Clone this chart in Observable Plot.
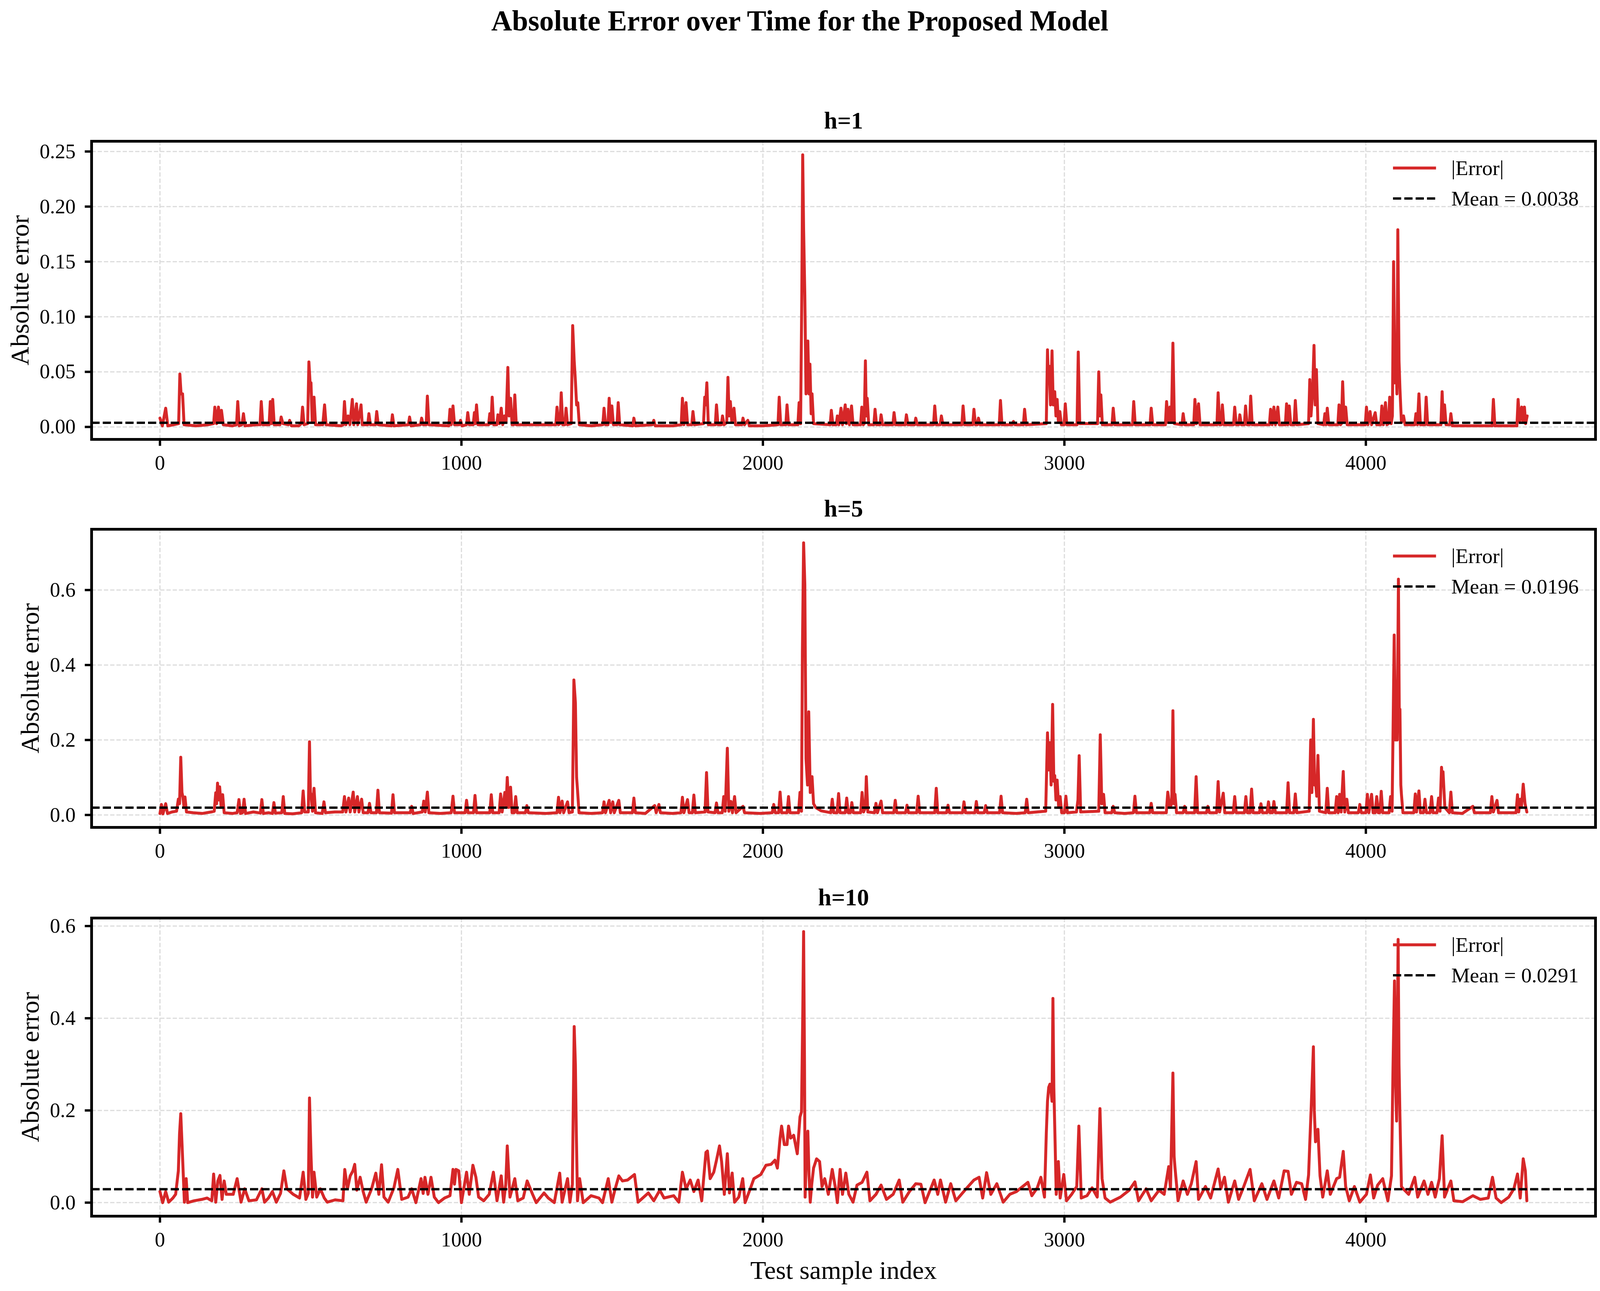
<!DOCTYPE html>
<html><head><meta charset="utf-8">
<script src="https://cdn.jsdelivr.net/npm/d3@7"></script>
<script src="https://cdn.jsdelivr.net/npm/@observablehq/plot@0.6"></script>
<style>
html,body{margin:0;padding:0;background:#fff;overflow:hidden;}
#page{position:relative;height:3304px;background:#fff;overflow:hidden;}
.panel{position:absolute;left:0;}
.panel svg{display:block;max-width:none;}
</style></head><body><div id="page"></div>
<script>
// ---------------- data ----------------
const chartTitle = "Absolute Error over Time for the Proposed Model";
const panelTitles = ["h=1", "h=5", "h=10"];
const meanValues = [0.0038, 0.0196, 0.0291];
const sampleIndexRange = [0, 4535];
const xTicks = [0, 1000, 2000, 3000, 4000];
const yTicksH1 = [0, 0.05, 0.10, 0.15, 0.20, 0.25];
const yTicksH5 = [0, 0.2, 0.4, 0.6];
const yTicksH10 = [0, 0.2, 0.4, 0.6];
const seriesLabel = "|Error|";
const yLabel = "Absolute error";
const xLabel = "Test sample index";

// [test sample index, absolute error]
const errorH1 = [[0,0.008],[8,0.001],[19,0.017],[26,0.001],[45,0.002],[62,0.003],[66,0.048],[70,0.030],[75,0.030],[80,0.002],[120,0.001],[160,0.002],[178,0.003],[182,0.018],[188,0.003],[194,0.018],[199,0.004],[204,0.015],[210,0.002],[240,0.001],[254,0.002],[258,0.023],[263,0.001],[272,0.002],[277,0.012],[282,0.001],[320,0.002],[332,0.002],[336,0.023],[341,0.002],[362,0.002],[366,0.023],[370,0.003],[374,0.025],[379,0.002],[398,0.002],[402,0.009],[408,0.003],[426,0.002],[430,0.006],[436,0.001],[460,0.001],[469,0.003],[473,0.018],[478,0.002],[490,0.003],[494,0.059],[498,0.040],[501,0.040],[505,0.004],[511,0.027],[516,0.002],[540,0.002],[546,0.020],[551,0.002],[600,0.001],[608,0.002],[612,0.023],[617,0.002],[624,0.010],[630,0.002],[638,0.025],[643,0.002],[652,0.021],[656,0.002],[667,0.020],[671,0.002],[689,0.002],[693,0.012],[698,0.002],[715,0.002],[719,0.014],[724,0.002],[767,0.001],[771,0.011],[776,0.001],[824,0.002],[828,0.009],[833,0.001],[864,0.002],[868,0.008],[873,0.002],[883,0.002],[887,0.028],[892,0.002],[958,0.001],[962,0.016],[966,0.002],[972,0.019],[977,0.002],[993,0.002],[997,0.006],[1002,0.001],[1017,0.002],[1021,0.013],[1026,0.002],[1039,0.002],[1043,0.013],[1046,0.003],[1050,0.020],[1055,0.002],[1090,0.002],[1094,0.012],[1098,0.003],[1102,0.027],[1107,0.002],[1117,0.002],[1121,0.011],[1126,0.003],[1132,0.017],[1137,0.002],[1143,0.010],[1148,0.004],[1154,0.054],[1158,0.010],[1163,0.026],[1168,0.002],[1173,0.002],[1177,0.029],[1182,0.002],[1250,0.002],[1313,0.002],[1317,0.018],[1322,0.002],[1327,0.003],[1331,0.031],[1336,0.002],[1343,0.002],[1347,0.017],[1352,0.002],[1364,0.003],[1369,0.092],[1374,0.060],[1378,0.042],[1382,0.020],[1386,0.022],[1391,0.002],[1430,0.001],[1469,0.002],[1473,0.017],[1478,0.002],[1486,0.002],[1490,0.026],[1495,0.004],[1499,0.019],[1504,0.002],[1516,0.002],[1520,0.022],[1525,0.002],[1568,0.001],[1572,0.008],[1577,0.001],[1634,0.002],[1638,0.006],[1643,0.001],[1700,0.001],[1729,0.002],[1733,0.026],[1738,0.002],[1745,0.022],[1750,0.002],[1764,0.002],[1768,0.014],[1773,0.002],[1803,0.003],[1807,0.027],[1810,0.020],[1814,0.040],[1819,0.002],[1842,0.002],[1846,0.020],[1851,0.002],[1862,0.002],[1866,0.010],[1871,0.002],[1880,0.004],[1884,0.045],[1888,0.010],[1892,0.023],[1897,0.004],[1904,0.017],[1909,0.002],[1930,0.002],[1934,0.008],[1939,0.002],[1950,0.006],[1955,0.001],[2000,0.001],[2050,0.002],[2054,0.027],[2059,0.002],[2076,0.002],[2080,0.020],[2085,0.002],[2116,0.002],[2120,0.022],[2125,0.003],[2129,0.120],[2132,0.247],[2135,0.180],[2139,0.120],[2143,0.030],[2146,0.040],[2149,0.078],[2153,0.030],[2156,0.057],[2160,0.012],[2163,0.030],[2168,0.003],[2223,0.002],[2227,0.015],[2232,0.002],[2243,0.002],[2247,0.010],[2252,0.002],[2259,0.017],[2264,0.002],[2273,0.020],[2277,0.003],[2282,0.016],[2287,0.002],[2294,0.019],[2299,0.002],[2324,0.002],[2328,0.018],[2333,0.002],[2336,0.003],[2340,0.060],[2343,0.010],[2346,0.026],[2351,0.002],[2368,0.002],[2372,0.016],[2377,0.002],[2388,0.002],[2392,0.011],[2397,0.002],[2431,0.002],[2435,0.013],[2440,0.002],[2472,0.002],[2476,0.011],[2481,0.002],[2503,0.002],[2507,0.008],[2512,0.002],[2566,0.002],[2570,0.019],[2575,0.002],[2588,0.002],[2592,0.010],[2597,0.002],[2660,0.002],[2664,0.019],[2669,0.002],[2696,0.002],[2700,0.016],[2705,0.002],[2711,0.002],[2715,0.008],[2720,0.002],[2784,0.002],[2788,0.024],[2793,0.002],[2827,0.002],[2831,0.005],[2836,0.002],[2864,0.002],[2868,0.016],[2873,0.002],[2940,0.003],[2944,0.070],[2947,0.040],[2950,0.055],[2954,0.020],[2959,0.069],[2963,0.020],[2968,0.032],[2972,0.010],[2976,0.025],[2980,0.005],[2985,0.014],[2990,0.002],[2999,0.002],[3003,0.021],[3008,0.002],[3042,0.002],[3046,0.068],[3051,0.003],[3110,0.003],[3114,0.050],[3118,0.010],[3121,0.029],[3126,0.002],[3158,0.002],[3162,0.017],[3167,0.002],[3226,0.002],[3230,0.023],[3235,0.002],[3284,0.002],[3288,0.017],[3293,0.002],[3335,0.002],[3339,0.023],[3344,0.004],[3350,0.018],[3355,0.004],[3360,0.076],[3365,0.003],[3390,0.002],[3394,0.012],[3399,0.002],[3429,0.002],[3433,0.025],[3438,0.003],[3445,0.021],[3450,0.002],[3506,0.002],[3510,0.031],[3515,0.002],[3520,0.002],[3524,0.020],[3529,0.002],[3561,0.002],[3565,0.018],[3570,0.002],[3578,0.002],[3582,0.011],[3587,0.002],[3597,0.002],[3601,0.019],[3606,0.002],[3614,0.002],[3618,0.028],[3623,0.002],[3680,0.002],[3684,0.016],[3689,0.002],[3695,0.018],[3700,0.002],[3708,0.018],[3713,0.002],[3733,0.002],[3737,0.021],[3741,0.002],[3746,0.019],[3751,0.002],[3762,0.002],[3766,0.024],[3771,0.002],[3810,0.003],[3814,0.043],[3818,0.010],[3823,0.030],[3828,0.074],[3832,0.020],[3836,0.052],[3841,0.003],[3860,0.002],[3864,0.012],[3868,0.002],[3872,0.017],[3877,0.002],[3907,0.002],[3911,0.020],[3916,0.002],[3919,0.003],[3923,0.041],[3928,0.004],[3933,0.018],[3938,0.002],[3998,0.002],[4002,0.018],[4007,0.002],[4014,0.014],[4019,0.002],[4031,0.013],[4036,0.002],[4049,0.002],[4053,0.019],[4058,0.002],[4065,0.022],[4070,0.002],[4075,0.003],[4079,0.027],[4084,0.003],[4088,0.010],[4092,0.150],[4096,0.040],[4099,0.081],[4103,0.030],[4106,0.179],[4110,0.060],[4113,0.035],[4118,0.004],[4125,0.010],[4130,0.002],[4162,0.002],[4166,0.012],[4171,0.002],[4176,0.030],[4181,0.002],[4196,0.002],[4200,0.027],[4205,0.002],[4249,0.002],[4253,0.032],[4257,0.004],[4261,0.020],[4266,0.002],[4278,0.002],[4282,0.012],[4287,0.001],[4350,0.001],[4419,0.001],[4423,0.025],[4428,0.001],[4501,0.001],[4505,0.025],[4510,0.005],[4517,0.018],[4521,0.004],[4526,0.018],[4530,0.003],[4535,0.010]];

const errorH5 = [[0,0.004],[5,0.028],[10,0.003],[19,0.030],[25,0.004],[40,0.008],[55,0.010],[61,0.042],[65,0.030],[69,0.154],[73,0.060],[76,0.048],[80,0.020],[83,0.048],[88,0.008],[110,0.006],[140,0.004],[170,0.008],[180,0.010],[185,0.059],[188,0.030],[191,0.085],[195,0.040],[198,0.075],[203,0.020],[208,0.054],[213,0.006],[240,0.004],[256,0.006],[262,0.041],[267,0.004],[274,0.006],[279,0.042],[284,0.004],[310,0.008],[333,0.005],[338,0.041],[343,0.004],[360,0.006],[373,0.004],[378,0.033],[383,0.005],[404,0.006],[409,0.049],[414,0.004],[440,0.003],[470,0.006],[475,0.064],[480,0.008],[492,0.008],[496,0.195],[499,0.060],[501,0.055],[506,0.010],[511,0.071],[516,0.006],[538,0.004],[544,0.035],[549,0.006],[580,0.008],[606,0.008],[612,0.049],[617,0.008],[626,0.045],[631,0.008],[641,0.061],[646,0.008],[655,0.049],[660,0.008],[669,0.042],[674,0.006],[690,0.006],[695,0.031],[700,0.006],[718,0.006],[723,0.066],[728,0.006],[768,0.005],[773,0.054],[778,0.006],[805,0.006],[830,0.006],[835,0.023],[840,0.004],[870,0.008],[875,0.037],[880,0.008],[887,0.061],[892,0.006],[930,0.004],[966,0.006],[972,0.050],[977,0.006],[1012,0.006],[1017,0.039],[1022,0.006],[1040,0.006],[1045,0.052],[1050,0.006],[1094,0.006],[1099,0.054],[1104,0.006],[1125,0.006],[1130,0.056],[1135,0.008],[1144,0.060],[1148,0.020],[1152,0.100],[1157,0.020],[1163,0.074],[1168,0.006],[1175,0.006],[1180,0.049],[1185,0.006],[1212,0.006],[1217,0.025],[1222,0.006],[1280,0.004],[1317,0.006],[1322,0.047],[1327,0.006],[1334,0.037],[1339,0.006],[1352,0.035],[1357,0.006],[1368,0.008],[1373,0.360],[1378,0.300],[1382,0.100],[1385,0.067],[1390,0.006],[1430,0.004],[1468,0.006],[1473,0.035],[1478,0.006],[1490,0.039],[1495,0.006],[1502,0.035],[1507,0.006],[1522,0.039],[1527,0.006],[1567,0.006],[1572,0.045],[1577,0.006],[1610,0.004],[1641,0.025],[1646,0.006],[1655,0.028],[1660,0.006],[1700,0.004],[1728,0.006],[1733,0.047],[1738,0.006],[1750,0.041],[1755,0.006],[1766,0.006],[1771,0.053],[1776,0.006],[1808,0.008],[1813,0.113],[1818,0.008],[1841,0.006],[1846,0.032],[1851,0.006],[1865,0.006],[1870,0.049],[1875,0.010],[1882,0.178],[1887,0.010],[1894,0.036],[1899,0.006],[1906,0.049],[1911,0.006],[1934,0.023],[1939,0.006],[1990,0.004],[2031,0.006],[2036,0.028],[2041,0.006],[2052,0.006],[2057,0.061],[2062,0.006],[2080,0.006],[2085,0.049],[2090,0.006],[2118,0.006],[2123,0.060],[2128,0.010],[2131,0.436],[2135,0.726],[2139,0.615],[2143,0.150],[2148,0.080],[2152,0.275],[2157,0.060],[2163,0.102],[2168,0.030],[2175,0.020],[2193,0.011],[2225,0.006],[2230,0.042],[2235,0.006],[2246,0.006],[2251,0.057],[2256,0.006],[2273,0.006],[2278,0.045],[2283,0.006],[2290,0.006],[2295,0.033],[2300,0.006],[2324,0.006],[2329,0.060],[2334,0.008],[2340,0.020],[2343,0.102],[2348,0.008],[2370,0.006],[2375,0.031],[2380,0.006],[2392,0.037],[2397,0.006],[2434,0.006],[2439,0.039],[2444,0.006],[2473,0.006],[2478,0.026],[2483,0.006],[2510,0.006],[2515,0.050],[2520,0.006],[2570,0.006],[2575,0.071],[2580,0.006],[2609,0.006],[2614,0.026],[2619,0.006],[2662,0.006],[2667,0.035],[2672,0.006],[2703,0.006],[2708,0.036],[2713,0.006],[2734,0.006],[2739,0.025],[2744,0.006],[2785,0.006],[2790,0.050],[2795,0.006],[2840,0.004],[2870,0.006],[2875,0.042],[2880,0.006],[2938,0.010],[2944,0.219],[2948,0.120],[2952,0.193],[2956,0.080],[2961,0.295],[2965,0.090],[2968,0.105],[2972,0.040],[2976,0.093],[2981,0.020],[2986,0.049],[2991,0.006],[3000,0.006],[3005,0.050],[3010,0.006],[3040,0.008],[3045,0.040],[3049,0.158],[3054,0.008],[3114,0.010],[3119,0.214],[3124,0.030],[3130,0.055],[3135,0.006],[3157,0.006],[3162,0.023],[3167,0.006],[3200,0.004],[3229,0.006],[3234,0.050],[3239,0.006],[3283,0.006],[3288,0.031],[3293,0.006],[3338,0.006],[3343,0.061],[3350,0.020],[3356,0.030],[3360,0.278],[3364,0.030],[3367,0.055],[3372,0.006],[3394,0.006],[3399,0.023],[3404,0.006],[3432,0.006],[3437,0.102],[3442,0.006],[3471,0.006],[3476,0.023],[3481,0.006],[3505,0.006],[3510,0.089],[3515,0.008],[3527,0.058],[3532,0.006],[3560,0.006],[3565,0.049],[3570,0.006],[3597,0.006],[3602,0.049],[3607,0.006],[3616,0.006],[3621,0.069],[3626,0.006],[3647,0.006],[3652,0.030],[3657,0.006],[3672,0.006],[3677,0.035],[3682,0.006],[3690,0.006],[3695,0.036],[3700,0.006],[3737,0.006],[3742,0.086],[3747,0.006],[3761,0.006],[3766,0.056],[3771,0.006],[3812,0.010],[3817,0.200],[3821,0.060],[3826,0.255],[3830,0.080],[3833,0.089],[3837,0.050],[3841,0.159],[3846,0.010],[3867,0.006],[3872,0.071],[3877,0.006],[3898,0.006],[3903,0.049],[3908,0.006],[3913,0.055],[3918,0.008],[3925,0.116],[3930,0.008],[3937,0.042],[3942,0.006],[3975,0.006],[3980,0.028],[3985,0.006],[4000,0.006],[4005,0.055],[4010,0.006],[4019,0.055],[4024,0.006],[4031,0.006],[4036,0.049],[4041,0.006],[4046,0.006],[4051,0.063],[4056,0.006],[4077,0.006],[4082,0.049],[4087,0.010],[4094,0.480],[4098,0.200],[4101,0.288],[4104,0.200],[4108,0.629],[4111,0.250],[4113,0.282],[4116,0.080],[4118,0.055],[4123,0.006],[4159,0.006],[4164,0.056],[4168,0.008],[4176,0.064],[4181,0.006],[4191,0.006],[4196,0.042],[4201,0.006],[4213,0.006],[4218,0.049],[4223,0.006],[4236,0.006],[4241,0.045],[4246,0.010],[4251,0.127],[4254,0.090],[4256,0.115],[4262,0.020],[4277,0.006],[4282,0.061],[4287,0.006],[4320,0.004],[4355,0.023],[4360,0.006],[4413,0.006],[4418,0.049],[4423,0.008],[4435,0.039],[4440,0.006],[4498,0.006],[4503,0.054],[4507,0.008],[4512,0.042],[4516,0.020],[4522,0.082],[4528,0.030],[4534,0.008]];

const errorH10 = [[0,0.024],[9,0.000],[19,0.024],[29,0.001],[43,0.010],[52,0.018],[61,0.069],[65,0.150],[69,0.193],[75,0.098],[81,0.001],[87,0.052],[92,0.000],[113,0.004],[139,0.007],[156,0.010],[172,0.004],[178,0.062],[185,0.001],[192,0.047],[199,0.059],[206,0.007],[213,0.047],[220,0.018],[243,0.018],[256,0.052],[269,0.001],[281,0.030],[295,0.004],[320,0.006],[338,0.030],[347,0.001],[360,0.010],[373,0.024],[386,0.001],[400,0.020],[411,0.069],[421,0.030],[442,0.018],[463,0.010],[475,0.066],[484,0.007],[492,0.020],[496,0.227],[501,0.103],[506,0.012],[511,0.066],[520,0.012],[532,0.030],[545,0.010],[555,0.001],[581,0.006],[607,0.004],[613,0.072],[622,0.030],[631,0.058],[640,0.069],[646,0.083],[653,0.027],[664,0.055],[674,0.024],[684,0.001],[702,0.030],[716,0.064],[726,0.018],[735,0.082],[743,0.012],[757,0.001],[776,0.032],[789,0.072],[802,0.007],[823,0.012],[835,0.030],[849,0.000],[866,0.052],[873,0.020],[879,0.055],[889,0.018],[899,0.055],[910,0.012],[924,0.000],[944,0.010],[962,0.015],[972,0.072],[977,0.040],[982,0.072],[991,0.069],[1000,0.000],[1017,0.066],[1026,0.018],[1038,0.081],[1048,0.055],[1057,0.012],[1074,0.004],[1092,0.018],[1106,0.066],[1118,0.004],[1132,0.058],[1140,0.001],[1147,0.040],[1152,0.123],[1161,0.012],[1177,0.052],[1187,0.004],[1205,0.010],[1218,0.047],[1236,0.018],[1248,0.000],[1274,0.021],[1288,0.010],[1308,0.000],[1326,0.064],[1334,0.001],[1352,0.052],[1360,0.001],[1368,0.040],[1374,0.382],[1378,0.300],[1381,0.155],[1385,0.004],[1392,0.052],[1404,0.000],[1430,0.015],[1456,0.010],[1468,0.000],[1487,0.052],[1499,0.001],[1510,0.030],[1522,0.058],[1534,0.047],[1551,0.049],[1574,0.061],[1586,0.001],[1620,0.021],[1638,0.004],[1658,0.027],[1672,0.010],[1704,0.015],[1721,0.001],[1733,0.066],[1745,0.030],[1759,0.049],[1771,0.024],[1785,0.049],[1797,0.004],[1811,0.109],[1816,0.112],[1825,0.052],[1837,0.066],[1846,0.092],[1856,0.123],[1863,0.089],[1872,0.018],[1882,0.106],[1889,0.021],[1898,0.064],[1906,0.001],[1920,0.012],[1933,0.052],[1941,0.000],[1958,0.030],[1970,0.052],[1993,0.061],[2010,0.081],[2027,0.083],[2040,0.092],[2048,0.075],[2057,0.140],[2062,0.166],[2071,0.126],[2080,0.126],[2085,0.166],[2092,0.140],[2102,0.146],[2114,0.106],[2123,0.186],[2128,0.197],[2132,0.400],[2135,0.588],[2138,0.300],[2140,0.012],[2144,0.100],[2149,0.155],[2153,0.060],[2157,0.001],[2162,0.040],[2168,0.075],[2178,0.095],[2188,0.089],[2196,0.035],[2205,0.052],[2217,0.018],[2230,0.072],[2241,0.030],[2247,0.000],[2256,0.072],[2264,0.018],[2275,0.064],[2285,0.018],[2299,0.001],[2312,0.038],[2329,0.044],[2345,0.066],[2355,0.004],[2375,0.018],[2392,0.038],[2410,0.007],[2432,0.018],[2452,0.049],[2464,0.001],[2486,0.024],[2507,0.041],[2524,0.040],[2538,0.000],[2568,0.049],[2580,0.018],[2589,0.049],[2606,0.001],[2623,0.041],[2640,0.004],[2674,0.030],[2700,0.049],[2717,0.055],[2729,0.010],[2742,0.065],[2756,0.018],[2776,0.041],[2797,0.001],[2819,0.018],[2841,0.024],[2862,0.035],[2879,0.044],[2892,0.015],[2910,0.032],[2922,0.055],[2934,0.012],[2940,0.150],[2944,0.220],[2948,0.250],[2952,0.257],[2956,0.240],[2959,0.220],[2962,0.443],[2965,0.250],[2968,0.166],[2973,0.018],[2980,0.089],[2986,0.010],[2998,0.061],[3007,0.004],[3024,0.018],[3041,0.035],[3048,0.166],[3056,0.010],[3075,0.015],[3092,0.032],[3109,0.012],[3118,0.204],[3125,0.052],[3135,0.010],[3152,0.001],[3186,0.012],[3215,0.027],[3234,0.045],[3246,0.004],[3271,0.030],[3288,0.004],[3314,0.027],[3331,0.018],[3346,0.078],[3352,0.030],[3360,0.281],[3364,0.100],[3367,0.075],[3377,0.004],[3394,0.047],[3408,0.018],[3421,0.041],[3437,0.089],[3445,0.007],[3468,0.035],[3485,0.010],[3510,0.073],[3519,0.030],[3531,0.055],[3544,0.001],[3565,0.047],[3578,0.007],[3595,0.035],[3616,0.072],[3630,0.004],[3655,0.041],[3672,0.007],[3695,0.047],[3711,0.010],[3729,0.069],[3742,0.068],[3753,0.018],[3770,0.044],[3787,0.041],[3800,0.007],[3810,0.060],[3814,0.129],[3819,0.211],[3826,0.338],[3829,0.200],[3833,0.132],[3841,0.159],[3848,0.058],[3857,0.012],[3872,0.069],[3882,0.018],[3903,0.052],[3913,0.055],[3925,0.111],[3933,0.035],[3945,0.004],[3962,0.035],[3980,0.001],[4002,0.018],[4015,0.060],[4026,0.010],[4039,0.038],[4056,0.052],[4073,0.004],[4085,0.058],[4090,0.291],[4095,0.481],[4099,0.250],[4102,0.177],[4107,0.571],[4110,0.300],[4113,0.189],[4118,0.035],[4121,0.032],[4142,0.018],[4162,0.055],[4172,0.012],[4193,0.047],[4206,0.018],[4218,0.044],[4230,0.012],[4244,0.052],[4253,0.145],[4261,0.012],[4282,0.047],[4292,0.004],[4321,0.002],[4355,0.015],[4380,0.007],[4406,0.010],[4420,0.055],[4432,0.010],[4449,0.000],[4474,0.012],[4491,0.030],[4503,0.062],[4512,0.010],[4522,0.095],[4529,0.069],[4534,0.004]];

// ---------------- drawing ----------------
const FONT = '"Liberation Serif","Times New Roman",serif';
const RED = "#d62728";
const REF_W = 4313;
const W = Math.min(window.innerWidth || REF_W, REF_W);   // viewport may be narrower than the reference
const sx = W / REF_W;                                    // horizontal layout factor
const fs = Math.sqrt(sx);                                // font-size compromise
const ML = Math.round(246 * sx), MR = Math.round(W - 4300 * sx), MT = 111, FH = 763;
const page = document.getElementById("page");
page.style.width = W + "px";

// suptitle
const tsvg = d3.select(page).append("svg")
  .attr("width", W).attr("height", 250)
  .style("position", "absolute").style("left", 0).style("top", 0);
tsvg.append("text").attr("x", 2156 * sx).attr("y", 78)
  .attr("text-anchor", "middle").attr("font-family", FONT)
  .attr("font-weight", "bold").attr("font-size", 76 * fs).attr("fill", "black")
  .text(chartTitle);

function makePanel(cfg) {
  const ys = cfg.data.map(d => d[1]);
  const ymin = d3.min(ys), ymax = d3.max(ys), yp = (ymax - ymin) * 0.05;
  const xp = (sampleIndexRange[1] - sampleIndexRange[0]) * 0.05;
  const H = cfg.height;
  const grid = {stroke: "#dcdcdc", strokeOpacity: 1, strokeWidth: 3, strokeDasharray: "11,5"};
  const marks = [
    Plot.gridX(xTicks, grid),
    Plot.gridY(cfg.yTicks, grid),
    Plot.line(cfg.data, {x: d => d[0], y: d => d[1], stroke: RED, strokeWidth: 7.5, strokeLinejoin: "round"}),
    Plot.ruleY([cfg.mean], {stroke: "black", strokeWidth: 6, strokeDasharray: "21,8"}),
    Plot.frame({stroke: "black", strokeWidth: 7}),
    Plot.axisX({ticks: xTicks, tickSize: 17, tickPadding: 23, tickFormat: d3.format("d"), strokeWidth: 6, fontSize: 54 * fs, label: null}),
    Plot.axisY({ticks: cfg.yTicks, tickSize: 17, tickPadding: Math.round(25 * sx), tickFormat: d3.format(cfg.fmt), strokeWidth: 6, fontSize: 54 * fs, label: null}),
    Plot.text([cfg.title], {text: d => d, frameAnchor: "top", lineAnchor: "bottom", dy: -33, fontSize: 63 * fs, fontWeight: "bold"}),
    Plot.text([yLabel], {text: d => d, frameAnchor: "left", rotate: -90, textAnchor: "middle", lineAnchor: "bottom", dx: cfg.yLabelDx * sx, fontSize: 68 * fs})
  ];
  if (cfg.xLabel) {
    marks.push(Plot.text([cfg.xLabel], {text: d => d, frameAnchor: "bottom", lineAnchor: "bottom", dy: 160, fontSize: 68 * fs}));
  }
  const svg = Plot.plot({
    width: W, height: H,
    marginLeft: ML, marginRight: MR, marginTop: MT, marginBottom: H - MT - FH,
    style: {fontFamily: FONT, fontSize: (54 * fs) + "px", color: "black", background: "white", overflow: "visible"},
    x: {domain: [sampleIndexRange[0] - xp, sampleIndexRange[1] + xp]},
    y: {domain: [ymin - yp, ymax + yp]},
    marks
  });
  // legend (upper right, no frame)
  const lg = d3.select(svg).append("g").attr("font-family", FONT).attr("font-size", 55 * fs)
    .attr("fill", "black").attr("text-anchor", "start");
  const y1 = MT + 69, y2 = MT + 147;
  lg.append("line").attr("x1", 3755 * sx).attr("x2", 3871 * sx).attr("y1", y1).attr("y2", y1)
    .attr("stroke", RED).attr("stroke-width", 7.5);
  lg.append("text").attr("x", 3912 * sx).attr("y", y1).attr("dy", "0.33em").text(seriesLabel);
  lg.append("line").attr("x1", 3755 * sx).attr("x2", 3871 * sx).attr("y1", y2).attr("y2", y2)
    .attr("stroke", "black").attr("stroke-width", 6).attr("stroke-dasharray", "21,8");
  lg.append("text").attr("x", 3912 * sx).attr("y", y2).attr("dy", "0.33em").text("Mean = " + cfg.mean.toFixed(4));

  const wrap = document.createElement("div");
  wrap.className = "panel";
  wrap.style.top = cfg.top + "px";
  wrap.style.width = W + "px";
  wrap.appendChild(svg);
  page.appendChild(wrap);
}

makePanel({data: errorH1, mean: meanValues[0], yTicks: yTicksH1, fmt: ".2f", title: panelTitles[0], top: 250, height: 993, yLabelDx: -170});
makePanel({data: errorH5, mean: meanValues[1], yTicks: yTicksH5, fmt: ".1f", title: panelTitles[1], top: 1243, height: 993, yLabelDx: -143});
makePanel({data: errorH10, mean: meanValues[2], yTicks: yTicksH10, fmt: ".1f", title: panelTitles[2], top: 2238, height: 1066, yLabelDx: -143, xLabel: xLabel});
</script></body></html>
